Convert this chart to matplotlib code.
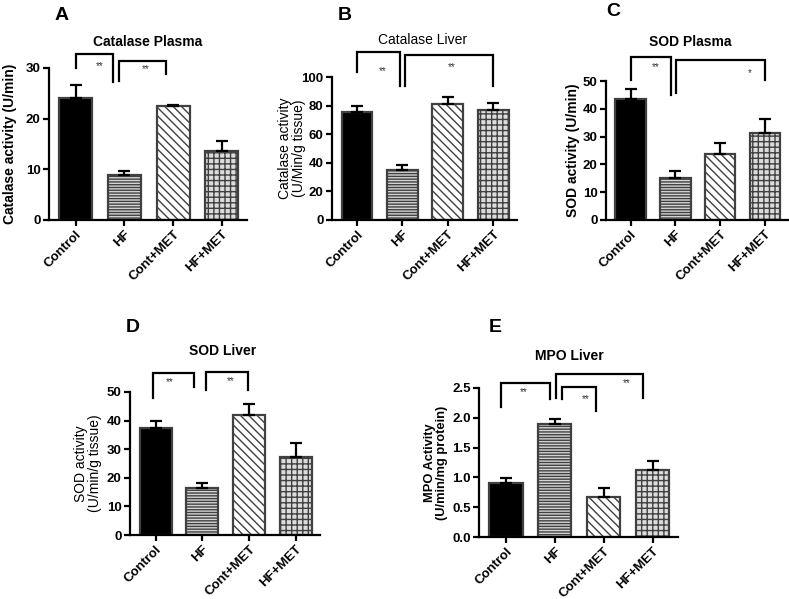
import matplotlib.pyplot as plt
import numpy as np

plt.rcParams['font.family'] = ['Liberation Sans', 'DejaVu Sans']
plt.rcParams['hatch.linewidth'] = 1.0

groups = ['Control', 'HF', 'Cont+MET', 'HF+MET']

cat_plasma = [24.1, 8.9, 22.5, 13.6]
cat_plasma_sem = [2.6, 0.8, 0.2, 2.0]
cat_liver = [75.5, 35.2, 81.0, 77.0]
cat_liver_sem = [4.2, 3.6, 4.8, 4.8]
sod_plasma = [43.5, 15.2, 23.8, 31.3]
sod_plasma_sem = [3.5, 2.3, 3.8, 5.0]
sod_liver = [37.3, 16.5, 42.0, 27.4]
sod_liver_sem = [2.6, 1.8, 3.9, 4.7]
mpo_liver = [0.90, 1.90, 0.67, 1.13]
mpo_liver_sem = [0.09, 0.08, 0.16, 0.15]

# bar looks: face, hatch
faces = ['black', '#d4d4d4', 'white', '#dcdcdc']
hatches = [None, '------', '\\\\\\\\', '+++']

# panels: values, sem, axes rect in px (left, top, right, bottom), ylim, step, ylabel, bold label, title, bold title, letter pos
panels = [
    dict(v=cat_plasma, e=cat_plasma_sem, px=(49, 68, 247, 220), ymax=30, step=10,
         ylab='Catalase activity (U/min)', lb=True, labfs=10, title='Catalase Plasma', tb=True,
         title_xy=(148, 42), letter='A', letter_xy=(62, 16), labdx=39,
         brackets=[(0, 0.76, 32.7, 30, 27.3, '**', 0.49, 30.3),
                   (0.88, 1.86, 31.4, 27.4, 28.8, '**', 1.43, 29.7)]),
    dict(v=cat_liver, e=cat_liver_sem, px=(332, 77, 517, 220), ymax=100, step=20,
         ylab='Catalase activity\n(U/Min/g tissue)', lb=False, labfs=10, title='Catalase Liver', tb=False,
         title_xy=(423, 40), letter='B', letter_xy=(345, 15), labdx=40,
         brackets=[(0, 0.95, 117.7, 103.7, 93.7, '**', 0.56, 104),
                   (1.06, 3.0, 115.4, 94, 93.7, '**', 2.09, 107)]),
    dict(v=sod_plasma, e=sod_plasma_sem, px=(606, 81, 788, 220), ymax=50, step=10,
         ylab='SOD activity (U/min)', lb=True, labfs=10, title='SOD Plasma', tb=True,
         title_xy=(690, 42), letter='C', letter_xy=(613, 12), labdx=33,
         brackets=[(0, 0.9, 58.5, 50.4, 45, '**', 0.57, 55),
                   (1.02, 3.0, 57.6, 45.6, 50.4, '*', 2.67, 53)]),
    dict(v=sod_liver, e=sod_liver_sem, px=(130, 392, 320, 535), ymax=50, step=10,
         ylab='SOD activity\n(U/min/g tissue)', lb=False, labfs=10, title='SOD Liver', tb=True,
         title_xy=(223, 351), letter='D', letter_xy=(133, 327), labdx=42,
         brackets=[(-0.05, 0.83, 56.7, 47.8, 51.6, '**', 0.31, 53.3),
                   (1.08, 1.98, 57.0, 50.7, 50.7, '**', 1.61, 53.9)]),
    dict(v=mpo_liver, e=mpo_liver_sem, px=(479, 388, 678, 537), ymax=2.5, step=0.5,
         ylab='MPO Activity\n(U/min/mg protein)', lb=True, labfs=9.3, title='MPO Liver', tb=True,
         title_xy=(569, 356), letter='E', letter_xy=(495, 327), labdx=43,
         brackets=[(-0.11, 0.91, 2.59, 2.18, 2.32, '**', 0.37, 2.43),
                   (1.02, 2.81, 2.73, 2.34, 2.34, '**', 2.47, 2.58),
                   (1.15, 1.84, 2.52, 2.31, 2.12, '**', 1.63, 2.31)]),
]

W, H = 789, 599
fig = plt.figure(figsize=(W / 100, H / 100), dpi=100)
x = np.arange(len(groups))

for p in panels:
    l, t, r, b = p['px']
    ax = fig.add_axes([l / W, 1 - b / H, (r - l) / W, (b - t) / H])
    for i in range(len(groups)):
        ax.bar(x[i], p['v'][i], width=0.68, color=faces[i], edgecolor='#404040',
               linewidth=1.6, hatch=hatches[i], zorder=2)
    ax.errorbar(x, p['v'], yerr=[np.zeros(4), p['e']], fmt='none', ecolor='black',
                elinewidth=1.6, capsize=4.5, capthick=1.6, zorder=3)
    ax.set_xlim(-0.55, 3.52)
    ax.set_ylim(0, p['ymax'])
    ax.set_yticks(np.arange(0, p['ymax'] + p['step'] / 2, p['step']))
    if p['step'] < 1:
        ax.set_yticklabels(['%.1f' % v for v in ax.get_yticks()])
    ax.set_xticks(x)
    ax.set_xticklabels(groups, rotation=45, ha='right', rotation_mode='anchor')
    for lab in ax.get_xticklabels() + ax.get_yticklabels():
        lab.set_fontweight('bold')
        lab.set_fontsize(9.5)
    ax.spines['top'].set_visible(False)
    ax.spines['right'].set_visible(False)
    ax.spines['left'].set_linewidth(1.6)
    ax.spines['bottom'].set_linewidth(1.6)
    ax.tick_params(width=1.6, length=4, pad=2)
    ax.set_ylabel(p['ylab'], fontsize=p['labfs'], fontweight='bold' if p['lb'] else 'normal',
                  va='center', linespacing=1.0)
    ax.yaxis.set_label_coords(-p['labdx'] / (r - l), 0.5)
    fig.text(p['title_xy'][0] / W, 1 - p['title_xy'][1] / H, p['title'], fontsize=10,
             fontweight='bold' if p['tb'] else 'normal', ha='center', va='center')
    fig.text(p['letter_xy'][0] / W, 1 - p['letter_xy'][1] / H, p['letter'], fontsize=14,
             fontweight='bold', ha='center', va='center')
    for x1, x2, top, yl, yr, s, tx, ty in p['brackets']:
        ax.plot([x1, x1, x2, x2], [yl, top, top, yr], color='black', lw=1.6,
                clip_on=False, solid_joinstyle='miter')
        ax.text(tx, ty, s, fontsize=7, color='#333333', ha='center', va='center')

fig.savefig('out.png', dpi=100)
